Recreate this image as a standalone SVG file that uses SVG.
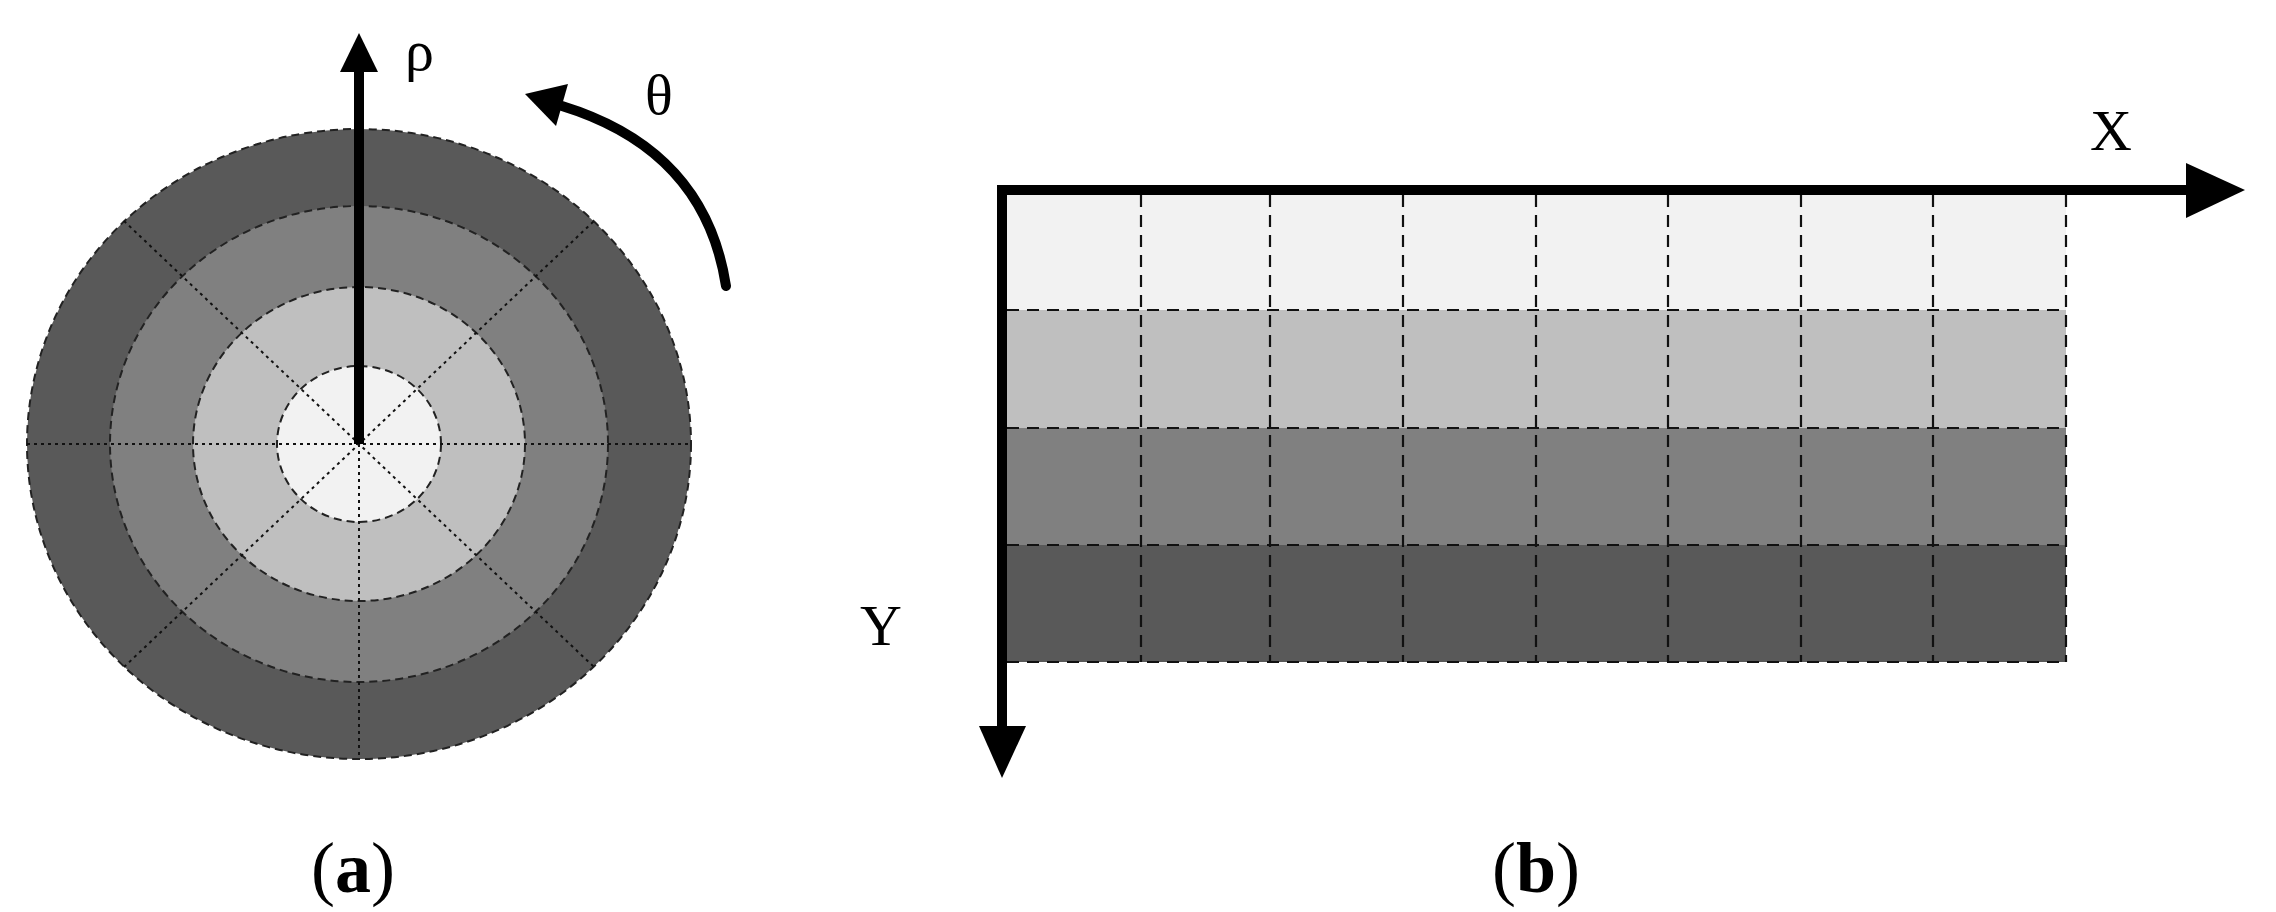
<svg xmlns="http://www.w3.org/2000/svg" width="2276" height="912" viewBox="0 0 2276 912">
<style>
.ring{stroke:#222;stroke-width:2;stroke-dasharray:8 5}
.rad{stroke:#111;stroke-width:2;stroke-dasharray:3 4;fill:none}
.grid{stroke:#111;stroke-width:2.2;stroke-dasharray:12 8;fill:none}
.lbl{font-family:"Liberation Serif",serif;font-size:58px;fill:#000}
.cap{font-family:"Liberation Serif",serif;font-size:72px;fill:#000}
.ax{stroke:#000;stroke-width:10;fill:none}
</style>
<g id="polar">
<ellipse cx="359" cy="444" rx="332" ry="315" fill="#595959" class="ring" stroke="#555"/>
<ellipse cx="359" cy="444" rx="249" ry="238" fill="#808080" class="ring"/>
<ellipse cx="359" cy="444" rx="166" ry="157" fill="#bfbfbf" class="ring"/>
<ellipse cx="359" cy="444" rx="82" ry="78" fill="#f2f2f2" class="ring"/>
<path class="rad" d="M27,444H691M359,129V759M124,221L594,667M124,667L594,221"/>
</g>
<g id="connectors">
<line class="ax" x1="359" y1="444" x2="359" y2="68"/>
<polygon points="359,33 340,72 378,72"/>
<path class="ax" d="M726,286 Q705,150 562,106" stroke-linecap="round"/>
<polygon points="525,94 568,84 556,126"/>
<line class="ax" x1="1000" y1="190" x2="2190" y2="190"/>
<polygon points="2245,190 2186,163 2186,218"/>
<line class="ax" x1="1002" y1="185" x2="1002" y2="730"/>
<polygon points="1002,778 979,726 1026,726"/>
</g>
<g id="grid">
<rect x="1007" y="195" width="1059" height="115" fill="#f2f2f2"/>
<rect x="1007" y="310" width="1059" height="118" fill="#bfbfbf"/>
<rect x="1007" y="428" width="1059" height="117" fill="#808080"/>
<rect x="1007" y="545" width="1059" height="117" fill="#595959"/>
<path class="grid" d="M1141,195V662M1270,195V662M1403,195V662M1536,195V662M1668,195V662M1801,195V662M1933,195V662M2066,195V662M1007,310H2066M1007,428H2066M1007,545H2066M1007,662H2066"/>
</g>
<g id="labels">
<text class="lbl" x="405" y="70">ρ</text>
<text class="lbl" x="645" y="114">θ</text>
<text class="lbl" x="2090" y="150">X</text>
<text class="lbl" x="860" y="645">Y</text>
<text class="cap" x="353" y="892" text-anchor="middle">(<tspan font-weight="bold">a</tspan>)</text>
<text class="cap" x="1536" y="892" text-anchor="middle">(<tspan font-weight="bold">b</tspan>)</text>
</g>
</svg>
